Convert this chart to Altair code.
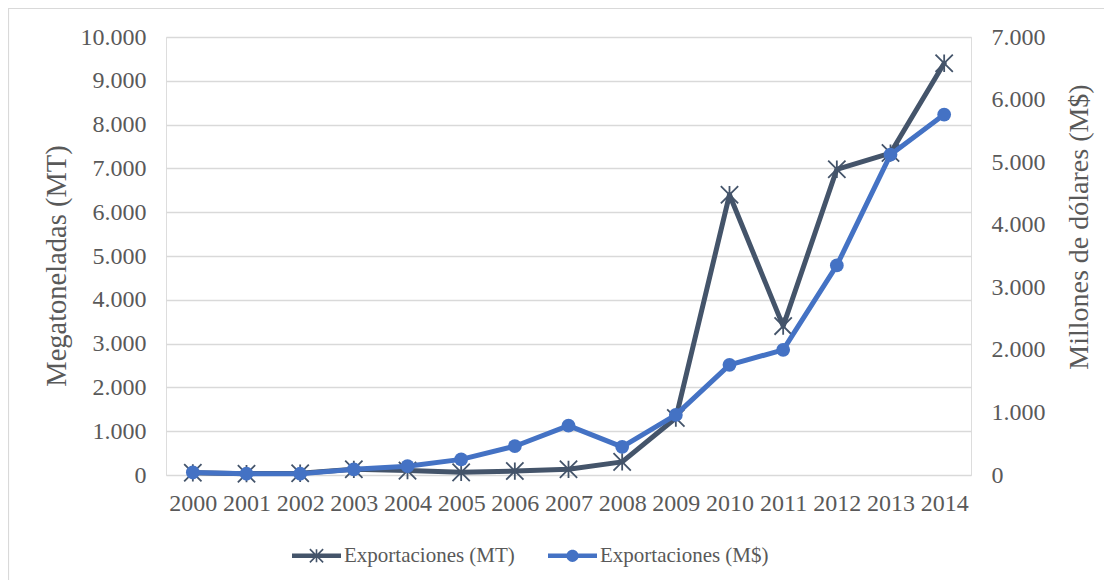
import altair as alt
import pandas as pd

years = ["2000", "2001", "2002", "2003", "2004", "2005", "2006", "2007",
         "2008", "2009", "2010", "2011", "2012", "2013", "2014"]
mt_values = [50, 30, 40, 130, 100, 60, 90, 130, 300, 1300, 6400, 3400, 6980, 7350, 9400]
usd_values = [40, 20, 20, 90, 140, 250, 460, 790, 450, 960, 1760, 2000, 3350, 5120, 5760]
series_names = ["Exportaciones (MT)", "Exportaciones (M$)"]
series_colors = ["#44546A", "#4472C4"]
left_title = "Megatoneladas (MT)"
right_title = "Millones de dólares (M$)"

FONT = "Liberation Serif"
TXT = "#595959"
GRID = "#D9D9D9"
W, H = 805, 438
PAD = {"left": 158, "top": 29, "right": 133, "bottom": 105}

df = pd.DataFrame({
    "year": years * 2,
    "series": [series_names[0]] * len(years) + [series_names[1]] * len(years),
    "value": mt_values + usd_values,
})

# legend symbols (line + marker), filled paths in [-1, 1] units
line_rect = "M-1,-0.092H1V0.092H-1Z"
asterisk = ("M-0.033,-0.27H0.033V0.27H-0.033Z"
            "M-0.247,-0.293L0.293,0.247L0.247,0.293L-0.293,-0.247Z"
            "M-0.293,0.247L0.247,-0.293L0.293,-0.247L-0.247,0.293Z")
circle = "M0.25,0A0.25,0.25 0 1,1 -0.25,0A0.25,0.25 0 1,1 0.25,0Z"
sym_mt = line_rect + asterisk
sym_usd = line_rect + circle

shape_expr = f"datum.value === '{series_names[0]}' ? '{sym_mt}' : '{sym_usd}'"
fill_expr = f"datum.value === '{series_names[0]}' ? '{series_colors[0]}' : '{series_colors[1]}'"

legend = alt.Legend(
    title=None, orient="none", legendX=126, legendY=494, direction="horizontal",
    columns=2, symbolType={"expr": shape_expr}, symbolFillColor={"expr": fill_expr},
    symbolSize=2401, symbolStrokeWidth=0, symbolOpacity=1,
    labelFont=FONT, labelFontSize=21, labelColor=TXT, labelLimit=400,
    labelOffset=3, columnPadding=33,
)

color_scale = alt.Scale(domain=series_names, range=series_colors)
color = alt.Color("series:N", scale=color_scale, legend=legend)

x_enc = alt.X("year:O", scale=alt.Scale(type="point", padding=0.5),
              axis=alt.Axis(title=None, labelAngle=0, labelFont=FONT, labelFontSize=24,
                            labelColor=TXT, ticks=False, tickSize=0, domain=False,
                            grid=False, labelPadding=16))

num_expr = "replace(format(datum.value, ','), ',', '.')"

y_left = alt.Y("value:Q", scale=alt.Scale(domain=[0, 10000], nice=False),
               axis=alt.Axis(title=left_title, orient="left", values=list(range(0, 10001, 1000)),
                             labelExpr=num_expr, labelFont=FONT, labelFontSize=24, labelColor=TXT,
                             titleFont=FONT, titleFontSize=28.5, titleColor=TXT,
                             titleFontWeight="normal", titleAngle=270, titleAlign="center",
                             titleBaseline="alphabetic", titleX=-101, titleY=228.5,
                             ticks=False, tickSize=0, domain=False,
                             grid=True, gridColor=GRID, gridWidth=1.5, labelPadding=20))
y_right = alt.Y("value:Q", scale=alt.Scale(domain=[0, 7000], nice=False),
                axis=alt.Axis(title=right_title, orient="right", values=list(range(0, 7001, 1000)),
                              labelExpr=num_expr, labelFont=FONT, labelFontSize=24, labelColor=TXT,
                              titleFont=FONT, titleFontSize=28, titleColor=TXT,
                              titleFontWeight="normal", titleAngle=270, titleAlign="center",
                              titleBaseline="alphabetic", titleX=116, titleY=189.5,
                              ticks=False, tickSize=0,
                              domain=False, grid=False, labelPadding=20))

base = alt.Chart(df)
mt_base = base.transform_filter(alt.datum.series == series_names[0])
usd_base = base.transform_filter(alt.datum.series == series_names[1])

mt_line = mt_base.mark_line(strokeWidth=5, strokeJoin="round", strokeCap="round").encode(
    x=x_enc, y=y_left, color=color)
mt_pts = mt_base.mark_point(shape="M-1,-1L1,1M-1,1L1,-1M0,-1L0,1", size=300, filled=False,
                            strokeWidth=1.8, opacity=1).encode(x=x_enc, y=y_left, color=color)
usd_line = usd_base.mark_line(strokeWidth=5, strokeJoin="round", strokeCap="round").encode(
    x=x_enc, y=y_right, color=color)
usd_pts = usd_base.mark_point(shape="circle", size=190, filled=True, opacity=1).encode(
    x=x_enc, y=y_right, color=color)

frame = alt.Chart(alt.Data(values=[{}])).mark_rect(
    fill="transparent", stroke=GRID, strokeWidth=1.2).encode(
    x=alt.value(-157.5), y=alt.value(-28.5), x2=alt.value(W + 200), y2=alt.value(H + 200))

chart = alt.layer(
    alt.layer(mt_line, mt_pts),
    alt.layer(usd_line, usd_pts),
    frame,
).resolve_scale(y="independent").properties(
    width=W, height=H, padding=PAD, autosize=alt.AutoSizeParams(type="none"),
    background="white",
).configure_view(stroke=None).configure_legend(
    labelFont=FONT, labelFontSize=21, labelColor=TXT, labelLimit=400,
).configure(font=FONT)

chart.save("out.html", embed_options={"renderer": "svg", "actions": False})
